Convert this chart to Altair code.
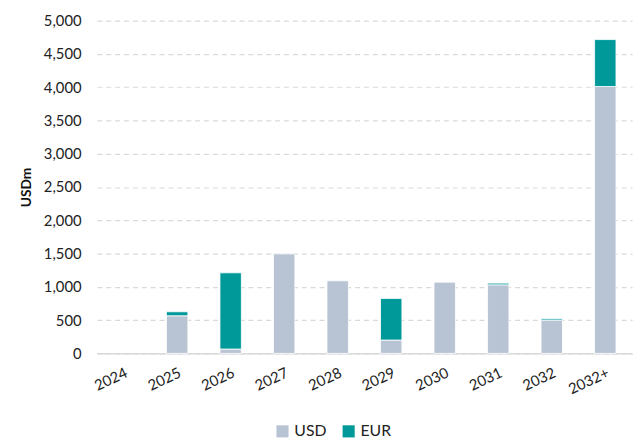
import altair as alt
import pandas as pd

years = ["2024", "2025", "2026", "2027", "2028", "2029", "2030", "2031", "2032", "2032+"]
usd = [0, 565, 65, 1495, 1090, 200, 1070, 1030, 500, 4010]
eur = [0, 60, 1145, 0, 0, 625, 0, 25, 20, 705]

rows = []
for y, u, e in zip(years, usd, eur):
    rows.append({"year": y, "currency": "USD", "value": u, "order": 0})
    rows.append({"year": y, "currency": "EUR", "value": e, "order": 1})
df = pd.DataFrame(rows)

FONT = "Lato"

chart = alt.Chart(df).transform_filter("datum.value > 0").mark_bar(
    stroke="white", strokeWidth=0.8
).encode(
    x=alt.X("year:N", sort=years, title=None,
            scale=alt.Scale(domain=years, paddingInner=0.6, paddingOuter=0.3),
            axis=alt.Axis(labelAngle=-25, labelFontSize=15, labelColor="#222222",
                          labelFont=FONT, ticks=False, domainColor="#D9D9D9",
                          domainWidth=1.5, labelPadding=12)),
    y=alt.Y("value:Q", stack="zero", title="USDm",
            scale=alt.Scale(domain=[0, 5000]),
            axis=alt.Axis(values=list(range(0, 5001, 500)), format=",d",
                          labelFontSize=15, labelColor="#222222", labelFont=FONT,
                          domain=False, ticks=False, gridDash=[5, 4],
                          gridColor="#D9D9D9", gridWidth=1.2, labelPadding=16,
                          titleFont=FONT, titleFontSize=14, titleFontWeight="bold",
                          titleColor="#111111", titlePadding=10)),
    color=alt.Color("currency:N", sort=["USD", "EUR"],
                    scale=alt.Scale(domain=["USD", "EUR"], range=["#B8C4D4", "#00999A"]),
                    legend=alt.Legend(orient="none", legendX=180, legendY=408,
                                      direction="horizontal", title=None,
                                      symbolType="square",
                                      symbolSize=150, labelFontSize=16, labelFont=FONT,
                                      labelColor="#222222", symbolStrokeWidth=0,
                                      columnPadding=14)),
    order=alt.Order("order:Q"),
).properties(
    width=542, height=337,
    autosize=alt.AutoSizeParams(type="none"),
    padding={"left": 90, "top": 10, "right": 3, "bottom": 87},
).configure_view(stroke=None)

chart.save("out.html", embed_options={"renderer": "svg", "actions": False})
